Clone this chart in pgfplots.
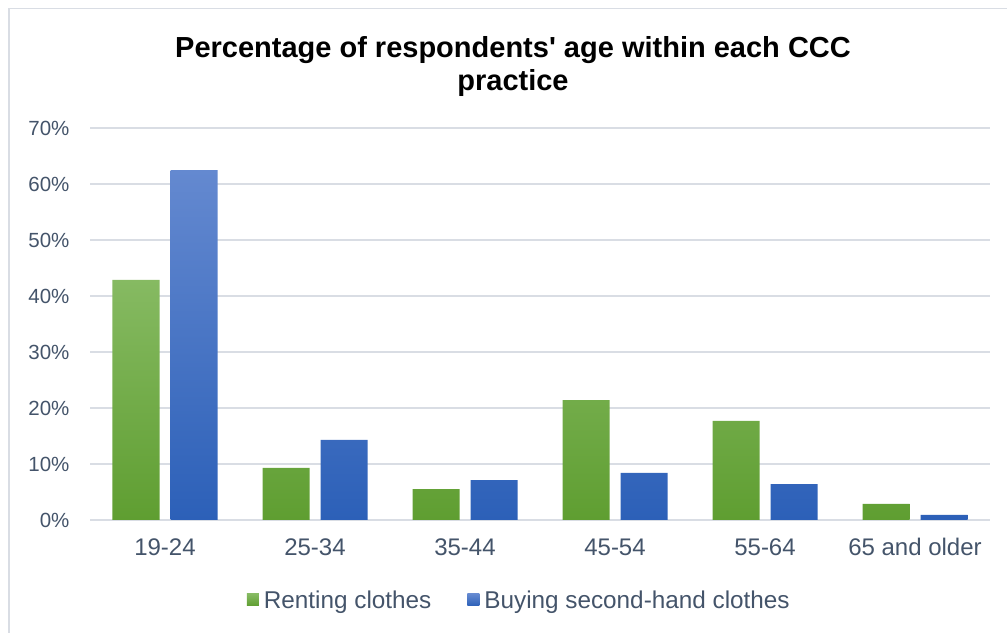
\documentclass[border=0pt]{standalone}
\usepackage{pgfplots}
\pgfplotsset{compat=1.18}
\usepackage{fontspec}
\setmainfont{Liberation Sans}[Ligatures=TeXOff]
\definecolor{txt}{HTML}{44546A}
\definecolor{gridc}{HTML}{D9DDE4}
\definecolor{gtop}{HTML}{86BA62}
\definecolor{gbot}{HTML}{5F9E31}
\definecolor{btop}{HTML}{6489D0}
\definecolor{bbot}{HTML}{2C60B8}
\begin{document}
\begin{tikzpicture}
\path[use as bounding box] (0,0) rectangle (1007bp,633bp);
\draw[gridc, line width=1.5bp] (9bp,0) -- (9bp,624.5bp) -- (1007bp,624.5bp);
\node[align=center, font=\fontsize{29bp}{33bp}\selectfont\bfseries, text=black] at (513bp,566bp) {Percentage of respondents' age within each CCC\\practice};
\begin{axis}[
  at={(90bp,113bp)}, anchor=south west,
  scale only axis, width=900bp, height=392bp,
  xmin=-0.5, xmax=5.5, ymin=0, ymax=70,
  ybar=11bp, bar width=47bp,
  xtick={0,1,2,3,4,5},
  xticklabels={19-24,25-34,35-44,45-54,55-64,65 and older},
  ytick={0,10,...,70},
  yticklabel={\pgfmathprintnumber{\tick}\%},
  /pgf/number format/assume math mode=true,
  ymajorgrids, xmajorgrids=false, grid style={draw=gridc, line width=1.5bp},
  axis line style={draw=none},
  major tick length=0pt,
  tick label style={text=txt},
  yticklabel style={font=\fontsize{20.5bp}{24bp}\selectfont, xshift=-17bp},
  xticklabel style={font=\fontsize{24bp}{28bp}\selectfont, yshift=-15bp},
  legend style={at={(0.477,-0.204)}, anchor=center, draw=none, fill=none,
    font=\fontsize{24.3bp}{28bp}\selectfont, text=txt, legend columns=2,
    /tikz/every odd column/.append style={column sep=3bp},
    /tikz/every even column/.append style={column sep=34bp},
    nodes={inner sep=2bp}},
  legend image code/.code={\path[#1] (0bp,-6bp) rectangle (12bp,6bp);},
]
\addplot[draw=none, top color=gtop, bottom color=gbot] coordinates {(0,42.9) (1,9.3) (2,5.5) (3,21.4) (4,17.7) (5,2.9)};
\addplot[draw=none, top color=btop, bottom color=bbot] coordinates {(0,62.5) (1,14.3) (2,7.1) (3,8.4) (4,6.4) (5,0.9)};
\legend{Renting clothes, Buying second-hand clothes}
\end{axis}
\end{tikzpicture}
\end{document}
